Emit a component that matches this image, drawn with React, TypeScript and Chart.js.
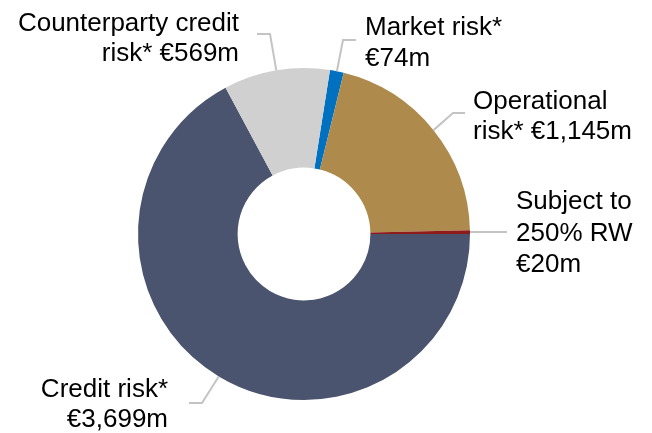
import React, { useEffect, useRef } from "react";
import { Chart, registerables } from "chart.js";

Chart.register(...registerables);

// Data (clockwise from just right of 12 o'clock)
const categories = [
  "Market risk*",
  "Operational risk*",
  "Subject to 250% RW",
  "Credit risk*",
  "Counterparty credit risk*",
];
const valuesEurM = [74, 1145, 20, 3699, 569];
const labelLines = [
  ["Market risk*", "€74m"],
  ["Operational", "risk* €1,145m"],
  ["Subject to", "250% RW", "€20m"],
  ["Credit risk*", "€3,699m"],
  ["Counterparty credit", "risk* €569m"],
];
const sliceColors = ["#0070C0", "#AE8B4C", "#8E1B1B", "#4A546E", "#D0D0D0"];

// Label layout (pixels): text anchor, alignment, line baselines, leader elbow/end
type LabelLayout = {
  x: number;
  baselines: number[];
  align: CanvasTextAlign;
  leader: [number, number][];
};
const labelLayout: LabelLayout[] = [
  { x: 365, baselines: [35, 66], align: "left", leader: [[343, 40], [356, 40]] },
  { x: 473, baselines: [109, 139], align: "left", leader: [[453, 113], [465, 113]] },
  { x: 516, baselines: [209, 241, 272], align: "left", leader: [[507, 232]] },
  { x: 168, baselines: [397, 427], align: "right", leader: [[202, 403], [189, 403]] },
  { x: 239, baselines: [31, 61], align: "right", leader: [[270, 34], [257, 34]] },
];

const labelPlugin = {
  id: "calloutLabels",
  afterDraw(chart: any) {
    const ctx = chart.ctx as CanvasRenderingContext2D;
    const meta = chart.getDatasetMeta(0);
    ctx.save();
    meta.data.forEach((arc: any, i: number) => {
      const p = arc.getProps(["x", "y", "startAngle", "endAngle", "outerRadius"], true);
      const mid = (p.startAngle + p.endAngle) / 2;
      const sx = p.x + Math.cos(mid) * p.outerRadius;
      const sy = p.y + Math.sin(mid) * p.outerRadius;
      const lay = labelLayout[i];
      ctx.strokeStyle = "#C4C4C4";
      ctx.lineWidth = 2;
      ctx.beginPath();
      ctx.moveTo(sx, sy);
      lay.leader.forEach(([lx, ly]) => ctx.lineTo(lx, ly));
      ctx.stroke();
      ctx.fillStyle = "#000000";
      ctx.font = '26px "Liberation Sans", Arial, sans-serif';
      ctx.textAlign = lay.align;
      ctx.textBaseline = "alphabetic";
      labelLines[i].forEach((line, j) => {
        ctx.fillText(line, lay.x, lay.baselines[j]);
      });
    });
    ctx.restore();
  },
};

export default function App() {
  const canvasRef = useRef<HTMLCanvasElement | null>(null);

  useEffect(() => {
    if (!canvasRef.current) return;
    const chart = new Chart(canvasRef.current, {
      type: "doughnut",
      data: {
        labels: categories,
        datasets: [
          {
            data: valuesEurM,
            backgroundColor: sliceColors,
            borderWidth: 0,
            hoverOffset: 0,
          },
        ],
      },
      options: {
        responsive: false,
        animation: false,
        devicePixelRatio: 1,
        cutout: "40%",
        rotation: 9,
        layout: { padding: { left: 138, right: 182, top: 68, bottom: 33 } },
        plugins: {
          legend: { display: false },
          tooltip: { enabled: false },
        },
      },
      plugins: [labelPlugin],
    });
    return () => chart.destroy();
  }, []);

  return (
    <div style={{ position: "fixed", left: 0, top: 0, width: 652, height: 433, background: "#fff" }}>
      <canvas ref={canvasRef} width={652} height={433} style={{ display: "block" }} />
    </div>
  );
}
